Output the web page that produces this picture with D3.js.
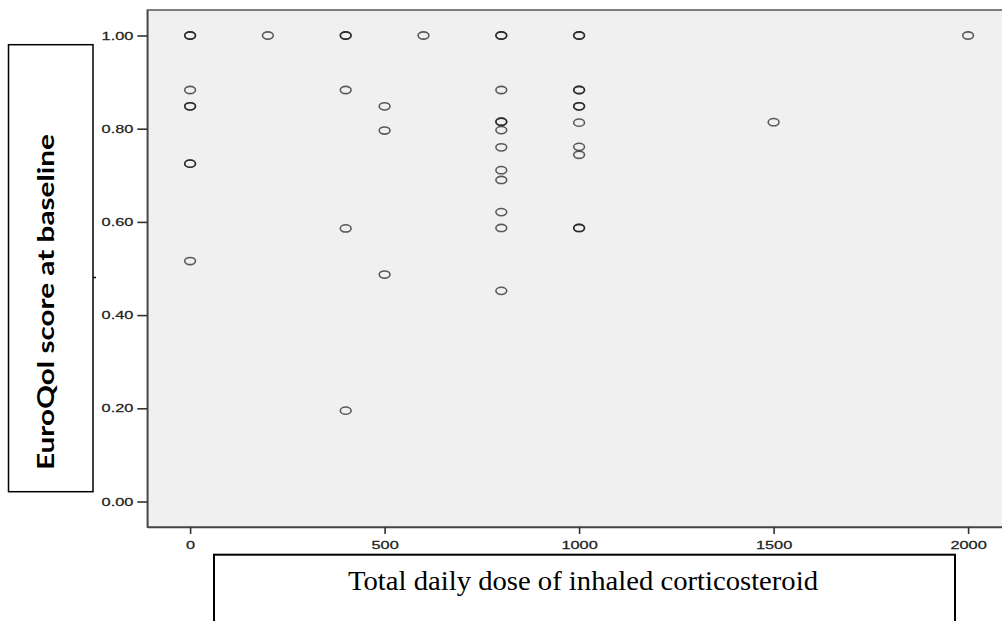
<!DOCTYPE html>
<html>
<head>
<meta charset="utf-8">
<script src="https://cdn.jsdelivr.net/npm/d3@7"></script>
<style>
  body { margin: 0; background: #fff; }
  svg { display: block; }
</style>
</head>
<body>
<svg id="chart" width="1002" height="621"></svg>
<script>
// dose (total daily inhaled corticosteroid) and EuroQol score;
// repeated pairs show up as darker circles in the original
var doses = [
  0, 0, 0, 0, 0, 0, 0, 0,
  200,
  400, 400, 400, 400, 400,
  500, 500, 500,
  600,
  800, 800, 800, 800, 800, 800, 800, 800, 800, 800, 800, 800,
  1000, 1000, 1000, 1000, 1000, 1000, 1000, 1000, 1000, 1000, 1000,
  1500,
  2000
];
var scores = [
  1.00, 1.00, 0.883, 0.848, 0.848, 0.725, 0.725, 0.516,
  1.00,
  1.00, 1.00, 0.883, 0.586, 0.195,
  0.848, 0.796, 0.487,
  1.00,
  1.00, 1.00, 0.883, 0.815, 0.815, 0.797, 0.760, 0.711, 0.690, 0.621, 0.587, 0.452,
  1.00, 1.00, 0.883, 0.883, 0.848, 0.848, 0.813, 0.761, 0.744, 0.587, 0.587,
  0.814,
  1.00
];
var xTicks = [0, 500, 1000, 1500, 2000];
var yTicks = [0, 0.2, 0.4, 0.6, 0.8, 1.0];
var xTitle = "Total daily dose of inhaled corticosteroid";
var yTitle = "EuroQol score at baseline";

var svg = d3.select("#chart");

var x = d3.scaleLinear().domain([-110, 2110]).range([147.3, 1010.9]);
var y = d3.scaleLinear().domain([-0.0547, 1.0547]).range([527, 10]);

// plot background + frame
svg.append("rect")
  .attr("x", x.range()[0]).attr("y", y.range()[1])
  .attr("width", x.range()[1] - x.range()[0])
  .attr("height", y.range()[0] - y.range()[1])
  .attr("fill", "#f0f0f0")
  .attr("stroke", "#555")
  .attr("stroke-width", 1.5);

var stretch = 1.42; // tick labels are drawn wide in the source

function styleTicks(g) {
  g.select(".domain").attr("stroke", "#444").attr("stroke-width", 1.5);
  g.selectAll(".tick line").attr("stroke", "#333").attr("stroke-width", 1.6);
  g.selectAll(".tick text")
    .attr("transform", "scale(" + stretch + ",1)")
    .style("font-family", "'Liberation Sans', Arial, sans-serif")
    .style("font-size", "11.5px")
    .attr("fill", "#222")
    .attr("stroke", "#222")
    .attr("stroke-width", 0.25);
}

var yAxis = svg.append("g")
  .attr("transform", "translate(" + x.range()[0] + ",0)")
  .call(d3.axisLeft(y).tickValues(yTicks).tickFormat(d3.format(".2f")).tickSize(10).tickSizeOuter(0));
styleTicks(yAxis);
yAxis.selectAll(".tick text").attr("x", -14 / stretch);

var xAxis = svg.append("g")
  .attr("transform", "translate(0," + y.range()[0] + ")")
  .call(d3.axisBottom(x).tickValues(xTicks).tickFormat(d3.format("d")).tickSize(7).tickSizeOuter(0));
styleTicks(xAxis);
xAxis.selectAll(".tick text").attr("y", 13.5);

// points
svg.append("g")
  .selectAll("ellipse")
  .data(doses.map(function(d, i) { return [d, scores[i]]; }))
  .join("ellipse")
    .attr("cx", function(d) { return x(d[0]); })
    .attr("cy", function(d) { return y(d[1]); })
    .attr("rx", 5.4)
    .attr("ry", 3.6)
    .attr("fill", "none")
    .attr("stroke", "#111")
    .attr("stroke-opacity", 0.68)
    .attr("stroke-width", 1.6);

// y title box
svg.append("rect")
  .attr("x", 8.5).attr("y", 44.7)
  .attr("width", 84.5).attr("height", 447)
  .attr("fill", "#fff")
  .attr("stroke", "#000")
  .attr("stroke-width", 1.5);
svg.append("text")
  .attr("transform", "translate(53.5,302) rotate(-90)")
  .attr("text-anchor", "middle")
  .attr("textLength", 336)
  .attr("lengthAdjust", "spacingAndGlyphs")
  .style("font-family", "Lato, 'Open Sans', sans-serif")
  .style("font-weight", "bold")
  .style("font-size", "23px")
  .attr("fill", "#000")
  .text(yTitle);
// stray tick next to the box
svg.append("line")
  .attr("x1", 93).attr("x2", 96).attr("y1", 277.5).attr("y2", 277.5)
  .attr("stroke", "#000").attr("stroke-width", 1.5);

// x title box
svg.append("rect")
  .attr("x", 214).attr("y", 554.7)
  .attr("width", 741).attr("height", 100)
  .attr("fill", "#fff")
  .attr("stroke", "#000")
  .attr("stroke-width", 2);
svg.append("text")
  .attr("x", 348).attr("y", 590)
  .attr("textLength", 470)
  .attr("lengthAdjust", "spacingAndGlyphs")
  .style("font-family", "'Liberation Serif', 'Times New Roman', serif")
  .style("font-size", "27.5px")
  .attr("fill", "#000")
  .text(xTitle);
</script>
</body>
</html>
